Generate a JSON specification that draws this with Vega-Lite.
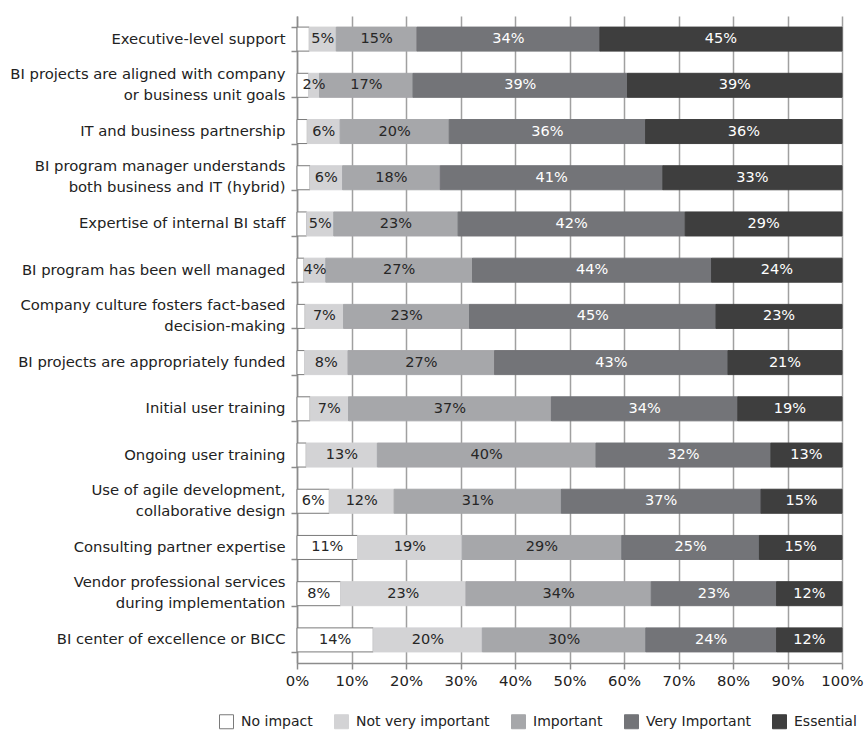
{
  "$schema": "https://vega.github.io/schema/vega-lite/v6.json",
  "width": 545,
  "height": 647,
  "autosize": {"type": "none"},
  "padding": {"left": 297, "top": 16, "right": 26, "bottom": 79},
  "background": "white",
  "config": {
    "font": "DejaVu Sans",
    "view": {"stroke": null},
    "axis": {"labelFont": "DejaVu Sans", "labelFontSize": 14.8, "labelColor": "#222222"}
  },
  "datasets": {
    "levels": [
      {"level": "No impact", "rank": 1},
      {"level": "Not very important", "rank": 2},
      {"level": "Important", "rank": 3},
      {"level": "Very Important", "rank": 4},
      {"level": "Essential", "rank": 5}
    ],
    "survey": [
      {"factor": "Executive-level support", "level": "No impact", "pct": 2.3},
      {"factor": "Executive-level support", "level": "Not very important", "pct": 5},
      {"factor": "Executive-level support", "level": "Important", "pct": 15},
      {"factor": "Executive-level support", "level": "Very Important", "pct": 34},
      {"factor": "Executive-level support", "level": "Essential", "pct": 45},
      {"factor": "BI projects are aligned with company or business unit goals", "level": "No impact", "pct": 2.1},
      {"factor": "BI projects are aligned with company or business unit goals", "level": "Not very important", "pct": 2},
      {"factor": "BI projects are aligned with company or business unit goals", "level": "Important", "pct": 17},
      {"factor": "BI projects are aligned with company or business unit goals", "level": "Very Important", "pct": 39},
      {"factor": "BI projects are aligned with company or business unit goals", "level": "Essential", "pct": 39},
      {"factor": "IT and business partnership", "level": "No impact", "pct": 1.9},
      {"factor": "IT and business partnership", "level": "Not very important", "pct": 6},
      {"factor": "IT and business partnership", "level": "Important", "pct": 20},
      {"factor": "IT and business partnership", "level": "Very Important", "pct": 36},
      {"factor": "IT and business partnership", "level": "Essential", "pct": 36},
      {"factor": "BI program manager understands both business and IT (hybrid)", "level": "No impact", "pct": 2.4},
      {"factor": "BI program manager understands both business and IT (hybrid)", "level": "Not very important", "pct": 6},
      {"factor": "BI program manager understands both business and IT (hybrid)", "level": "Important", "pct": 18},
      {"factor": "BI program manager understands both business and IT (hybrid)", "level": "Very Important", "pct": 41},
      {"factor": "BI program manager understands both business and IT (hybrid)", "level": "Essential", "pct": 33},
      {"factor": "Expertise of internal BI staff", "level": "No impact", "pct": 1.8},
      {"factor": "Expertise of internal BI staff", "level": "Not very important", "pct": 5},
      {"factor": "Expertise of internal BI staff", "level": "Important", "pct": 23},
      {"factor": "Expertise of internal BI staff", "level": "Very Important", "pct": 42},
      {"factor": "Expertise of internal BI staff", "level": "Essential", "pct": 29},
      {"factor": "BI program has been well managed", "level": "No impact", "pct": 1.3},
      {"factor": "BI program has been well managed", "level": "Not very important", "pct": 4},
      {"factor": "BI program has been well managed", "level": "Important", "pct": 27},
      {"factor": "BI program has been well managed", "level": "Very Important", "pct": 44},
      {"factor": "BI program has been well managed", "level": "Essential", "pct": 24},
      {"factor": "Company culture fosters fact-based decision-making", "level": "No impact", "pct": 1.5},
      {"factor": "Company culture fosters fact-based decision-making", "level": "Not very important", "pct": 7},
      {"factor": "Company culture fosters fact-based decision-making", "level": "Important", "pct": 23},
      {"factor": "Company culture fosters fact-based decision-making", "level": "Very Important", "pct": 45},
      {"factor": "Company culture fosters fact-based decision-making", "level": "Essential", "pct": 23},
      {"factor": "BI projects are appropriately funded", "level": "No impact", "pct": 1.4},
      {"factor": "BI projects are appropriately funded", "level": "Not very important", "pct": 8},
      {"factor": "BI projects are appropriately funded", "level": "Important", "pct": 27},
      {"factor": "BI projects are appropriately funded", "level": "Very Important", "pct": 43},
      {"factor": "BI projects are appropriately funded", "level": "Essential", "pct": 21},
      {"factor": "Initial user training", "level": "No impact", "pct": 2.4},
      {"factor": "Initial user training", "level": "Not very important", "pct": 7},
      {"factor": "Initial user training", "level": "Important", "pct": 37},
      {"factor": "Initial user training", "level": "Very Important", "pct": 34},
      {"factor": "Initial user training", "level": "Essential", "pct": 19},
      {"factor": "Ongoing user training", "level": "No impact", "pct": 1.7},
      {"factor": "Ongoing user training", "level": "Not very important", "pct": 13},
      {"factor": "Ongoing user training", "level": "Important", "pct": 40},
      {"factor": "Ongoing user training", "level": "Very Important", "pct": 32},
      {"factor": "Ongoing user training", "level": "Essential", "pct": 13},
      {"factor": "Use of agile development, collaborative design", "level": "No impact", "pct": 6},
      {"factor": "Use of agile development, collaborative design", "level": "Not very important", "pct": 12},
      {"factor": "Use of agile development, collaborative design", "level": "Important", "pct": 31},
      {"factor": "Use of agile development, collaborative design", "level": "Very Important", "pct": 37},
      {"factor": "Use of agile development, collaborative design", "level": "Essential", "pct": 15},
      {"factor": "Consulting partner expertise", "level": "No impact", "pct": 11},
      {"factor": "Consulting partner expertise", "level": "Not very important", "pct": 19},
      {"factor": "Consulting partner expertise", "level": "Important", "pct": 29},
      {"factor": "Consulting partner expertise", "level": "Very Important", "pct": 25},
      {"factor": "Consulting partner expertise", "level": "Essential", "pct": 15},
      {"factor": "Vendor professional services during implementation", "level": "No impact", "pct": 8},
      {"factor": "Vendor professional services during implementation", "level": "Not very important", "pct": 23},
      {"factor": "Vendor professional services during implementation", "level": "Important", "pct": 34},
      {"factor": "Vendor professional services during implementation", "level": "Very Important", "pct": 23},
      {"factor": "Vendor professional services during implementation", "level": "Essential", "pct": 12},
      {"factor": "BI center of excellence or BICC", "level": "No impact", "pct": 14},
      {"factor": "BI center of excellence or BICC", "level": "Not very important", "pct": 20},
      {"factor": "BI center of excellence or BICC", "level": "Important", "pct": 30},
      {"factor": "BI center of excellence or BICC", "level": "Very Important", "pct": 24},
      {"factor": "BI center of excellence or BICC", "level": "Essential", "pct": 12}
    ]
  },
  "data": {"name": "survey"},
  "transform": [
    {"lookup": "level", "from": {"data": {"name": "levels"}, "key": "level", "fields": ["rank"]}},
    {"stack": "pct", "groupby": ["factor"], "sort": [{"field": "rank", "order": "ascending"}], "offset": "normalize", "as": ["x0", "x1"]},
    {"calculate": "(datum.x0 + datum.x1) / 2", "as": "mid"},
    {"calculate": "format(datum.pct, '.0f') + '%'", "as": "label"}
  ],
  "encoding": {
    "y": {
      "field": "factor",
      "type": "nominal",
      "sort": null,
      "title": null,
      "scale": {"paddingInner": 0.48, "paddingOuter": 0.24},
      "axis": {
        "tickBand": "extent",
        "grid": false,
        "domainColor": "#8c8c8c",
        "domainWidth": 1.5,
        "tickColor": "#8c8c8c",
        "tickWidth": 1.5,
        "tickSize": 6,
        "labelPadding": 6,
        "labelLimit": 320,
        "labelLineHeight": 21,
        "labelOffset": {
          "condition": {
            "test": "indexof(['BI projects are aligned with company or business unit goals', 'BI program manager understands both business and IT (hybrid)', 'Company culture fosters fact-based decision-making', 'Use of agile development, collaborative design', 'Vendor professional services during implementation'], datum.value) >= 0",
            "value": -11
          },
          "value": 0
        },
        "labelExpr": "datum.label == 'BI projects are aligned with company or business unit goals' ? ['BI projects are aligned with company', 'or business unit goals'] : datum.label == 'BI program manager understands both business and IT (hybrid)' ? ['BI program manager understands', 'both business and IT (hybrid)'] : datum.label == 'Company culture fosters fact-based decision-making' ? ['Company culture fosters fact-based', 'decision-making'] : datum.label == 'Use of agile development, collaborative design' ? ['Use of agile development,', 'collaborative design'] : datum.label == 'Vendor professional services during implementation' ? ['Vendor professional services', 'during implementation'] : datum.label"
      }
    }
  },
  "layer": [
    {
      "mark": {"type": "bar", "strokeWidth": 1},
      "encoding": {
        "x": {
          "field": "x0",
          "type": "quantitative",
          "title": null,
          "scale": {"domain": [0, 1], "nice": false},
          "axis": {
            "values": [0, 0.1, 0.2, 0.3, 0.4, 0.5, 0.6, 0.7, 0.8, 0.9, 1],
            "format": ".0%",
            "grid": true,
            "gridColor": "#a0a0a0",
            "gridWidth": 1.5,
            "domainColor": "#8c8c8c",
            "domainWidth": 1.5,
            "tickColor": "#8c8c8c",
            "tickWidth": 1.5,
            "tickSize": 6,
            "labelPadding": 4,
            "labelFlush": false
          }
        },
        "x2": {"field": "x1"},
        "fill": {
          "field": "level",
          "type": "nominal",
          "scale": {
            "domain": ["No impact", "Not very important", "Important", "Very Important", "Essential"],
            "range": ["#ffffff", "#d3d3d5", "#a6a7aa", "#737478", "#3e3e3e"]
          },
          "legend": {
            "orient": "none",
            "legendX": -78,
            "legendY": 698,
            "direction": "horizontal",
            "columns": 5,
            "title": null,
            "symbolType": "square",
            "symbolSize": 196,
            "symbolStrokeWidth": 1,
            "labelFont": "DejaVu Sans",
            "labelFontSize": 14,
            "labelColor": "#222222",
            "labelOffset": 7,
            "columnPadding": 19
          }
        },
        "stroke": {
          "field": "level",
          "type": "nominal",
          "scale": {
            "domain": ["No impact", "Not very important", "Important", "Very Important", "Essential"],
            "range": ["#7a7a7a", "#d3d3d5", "#a6a7aa", "#737478", "#3e3e3e"]
          },
          "legend": {
            "orient": "none",
            "legendX": -78,
            "legendY": 698,
            "direction": "horizontal",
            "columns": 5,
            "title": null,
            "symbolType": "square",
            "symbolSize": 196,
            "symbolStrokeWidth": 1,
            "labelFont": "DejaVu Sans",
            "labelFontSize": 14,
            "labelColor": "#222222",
            "labelOffset": 7,
            "columnPadding": 19
          }
        }
      }
    },
    {
      "transform": [{"filter": "datum.level != 'No impact' || datum.pct >= 5"}],
      "mark": {"type": "text", "fontSize": 14.5, "font": "DejaVu Sans", "baseline": "middle", "align": "center"},
      "encoding": {
        "x": {"field": "mid", "type": "quantitative"},
        "text": {"field": "label"},
        "color": {
          "condition": {"test": "datum.level == 'Very Important' || datum.level == 'Essential'", "value": "#ffffff"},
          "value": "#262626"
        }
      }
    }
  ]
}
